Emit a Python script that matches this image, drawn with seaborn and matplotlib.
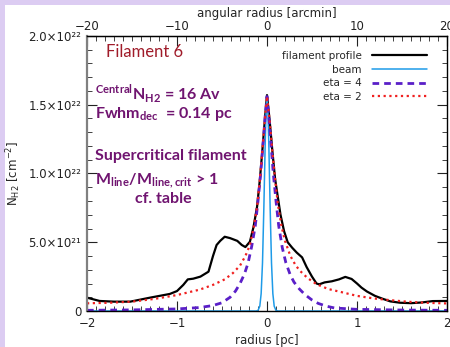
import matplotlib
matplotlib.use("Agg")
import matplotlib.pyplot as plt
from matplotlib.patches import Rectangle
from matplotlib.ticker import MultipleLocator, FixedLocator
import pandas as pd
import seaborn as sns

# radius [pc] / column density [1e21 cm^-2]
prof_r = [-2.0, -1.86, -1.7, -1.52, -1.3, -1.08, -1.0, -0.93, -0.88, -0.82, -0.74, -0.65,
          -0.6, -0.56, -0.52, -0.47, -0.41, -0.33, -0.28, -0.24, -0.19, -0.15, -0.11,
          -0.08, -0.05, -0.02, 0.0, 0.03, 0.06, 0.09, 0.12, 0.15, 0.19, 0.23, 0.28,
          0.33, 0.39, 0.44, 0.5, 0.55, 0.58, 0.64, 0.72, 0.8, 0.87, 0.94, 1.0, 1.05,
          1.11, 1.2, 1.28, 1.37, 1.48, 1.6, 1.72, 1.84, 2.0]
prof_n = [0.97, 0.73, 0.68, 0.68, 0.97, 1.24, 1.45, 1.9, 2.3, 2.35, 2.5, 2.86,
          4.0, 4.8, 5.1, 5.4, 5.3, 5.1, 4.8, 4.65, 5.04, 6.1, 7.6,
          9.5, 11.8, 14.2, 15.7, 13.8, 11.6, 9.6, 8.3, 7.0, 5.8, 5.0, 4.6,
          4.25, 3.9, 3.2, 2.5, 2.0, 1.94, 2.08, 2.16, 2.3, 2.48, 2.33, 2.0, 1.7,
          1.42, 1.1, 0.9, 0.7, 0.6, 0.57, 0.62, 0.72, 0.73]

beam_r = [-2.0, -0.12, -0.1, -0.08, -0.065, -0.05, -0.035, -0.02, -0.01, 0.0,
          0.01, 0.02, 0.035, 0.05, 0.065, 0.08, 0.1, 0.12, 2.0]
beam_n = [0.0, 0.0, 0.04, 0.35, 1.26, 3.5, 7.5, 12.2, 14.6, 15.5,
          14.6, 12.2, 7.5, 3.5, 1.26, 0.35, 0.04, 0.0, 0.0]

eta4_r = [-2.0, -1.5, -1.0, -0.75, -0.6, -0.5, -0.41, -0.35, -0.3, -0.25, -0.21,
          -0.17, -0.13, -0.1, -0.07, -0.04, -0.02, 0.0, 0.02, 0.04, 0.07, 0.1,
          0.13, 0.17, 0.21, 0.26, 0.3, 0.36, 0.42, 0.5, 0.57, 0.66, 0.75, 1.0,
          1.5, 2.0]
eta4_n = [0.05, 0.08, 0.15, 0.25, 0.4, 0.6, 1.0, 1.45, 2.0, 2.7, 3.5,
          4.7, 6.2, 8.0, 10.0, 12.5, 14.2, 15.6, 14.2, 12.5, 10.0, 8.0,
          6.2, 4.6, 3.5, 2.6, 2.1, 1.6, 1.2, 0.8, 0.55, 0.35, 0.22, 0.12,
          0.07, 0.05]

eta2_r = [-2.0, -1.75, -1.5, -1.25, -1.0, -0.75, -0.6, -0.47, -0.38, -0.3, -0.24,
          -0.19, -0.15, -0.11, -0.08, -0.05, -0.02, 0.0, 0.03, 0.06, 0.09, 0.12,
          0.16, 0.2, 0.26, 0.32, 0.37, 0.45, 0.55, 0.68, 0.81, 1.0, 1.18, 1.35,
          1.55, 1.75, 2.0]
eta2_n = [0.56, 0.6, 0.68, 0.88, 1.16, 1.55, 1.9, 2.3, 2.75, 3.3, 4.0,
          4.8, 6.0, 7.6, 9.5, 11.8, 14.2, 15.6, 13.8, 11.6, 9.6, 7.8,
          6.2, 5.1, 4.0, 3.3, 2.9, 2.4, 1.95, 1.6, 1.4, 1.1, 0.92, 0.8,
          0.68, 0.6, 0.55]

y_ticks = [0, 5e21, 1e22, 1.5e22, 2e22]
y_labels = ["0", "5.0×10²¹", "1.0×10²²", "1.5×10²²", "2.0×10²²"]

W, H = 450, 347
sns.set_style("ticks")
plt.rcParams["font.family"] = ["DejaVu Sans"]

fig = plt.figure(figsize=(W / 100, H / 100), dpi=100, facecolor="#dcccf2")
fig.patches.append(Rectangle((5 / W, 0), 1, 1 - 5 / H, transform=fig.transFigure,
                             facecolor="white", edgecolor="none", zorder=-10))
ax = fig.add_axes([87 / W, 1 - 311 / H, 360 / W, 275 / H])
ax.set_facecolor("white")


def frame(r, n):
    return pd.DataFrame({"r": r, "n": [v * 1e21 for v in n]})


sns.lineplot(data=frame(prof_r, prof_n), x="r", y="n", ax=ax, color="black",
             lw=1.6, estimator=None, label="filament profile")
sns.lineplot(data=frame(beam_r, beam_n), x="r", y="n", ax=ax, color="#1e9be8",
             lw=1.1, estimator=None, label="beam")
sns.lineplot(data=frame(eta4_r, eta4_n), x="r", y="n", ax=ax, color="#5a1fc8",
             lw=2.0, ls=(0, (2.4, 1.8)), estimator=None, label="eta = 4")
sns.lineplot(data=frame(eta2_r, eta2_n), x="r", y="n", ax=ax, color="#f02020",
             lw=1.6, ls=(0, (1, 1.6)), estimator=None, label="eta = 2")

ax.set_xlim(-2, 2)
ax.set_ylim(0, 2e22)
ax.xaxis.set_major_locator(FixedLocator([-2, -1, 0, 1, 2]))
ax.xaxis.set_minor_locator(MultipleLocator(0.1))
ax.set_yticks(y_ticks, y_labels)
ax.yaxis.set_minor_locator(MultipleLocator(1e21))
ax.tick_params(which="both", direction="in", top=False, right=True,
               labelsize=8.5, colors="#222222", pad=4)
ax.tick_params(which="major", length=7)
ax.tick_params(which="minor", length=3.5)
for s in ["top", "right", "bottom"]:
    ax.spines[s].set_color("black")
    ax.spines[s].set_linewidth(1.0)
ax.spines["left"].set_color("#808080")
ax.spines["left"].set_linewidth(1.6)

ax.set_xlabel("radius [pc]", fontsize=8.5, labelpad=3)
ax.set_ylabel(r"N$_{\mathregular{H2}}$ [cm$^{\mathregular{-2}}$]", fontsize=8.5, labelpad=4)

sec = ax.secondary_xaxis("top", functions=(lambda r: r * 10, lambda a: a / 10))
sec.xaxis.set_major_locator(FixedLocator([-20, -10, 0, 10, 20]))
sec.xaxis.set_minor_locator(MultipleLocator(1))
sec.tick_params(which="both", direction="in", labelsize=8.5, colors="#222222", pad=2)
sec.tick_params(which="major", length=7)
sec.tick_params(which="minor", length=3.5)
sec.set_xlabel("angular radius [arcmin]", fontsize=8.5, labelpad=2)

leg = ax.legend(loc="upper right", frameon=False, markerfirst=False, fontsize=7.5,
                handlelength=5.3, handletextpad=1.0, labelspacing=0.35,
                borderpad=0, borderaxespad=0,
                bbox_to_anchor=(427 / W, 1 - 51 / H), bbox_transform=fig.transFigure)
for t in leg.get_texts():
    t.set_ha("right")

purple = "#701470"
kw = dict(family="Lato", weight="bold", color=purple, va="baseline", ha="left")
fig.text(106 / W, 1 - 57 / H, "Filament 6", family="Lato", fontsize=12,
         color="#a01c2a", va="baseline")
fig.text(95 / W, 1 - 100 / H, r"$^{\mathregular{Central}}$N$_{\mathregular{H2}}$ = 16 Av",
         fontsize=11.5, **kw)
fig.text(95 / W, 1 - 118 / H, r"Fwhm$_{\mathregular{dec}}$  = 0.14 pc", fontsize=11.5, **kw)
fig.text(95 / W, 1 - 160 / H, "Supercritical filament", fontsize=11.5, **kw)
fig.text(95 / W, 1 - 184 / H, r"M$_{\mathregular{line}}$/M$_{\mathregular{line,crit}}$ > 1",
         fontsize=11.5, **kw)
fig.text(135 / W, 1 - 203 / H, "cf. table", fontsize=11.5, **kw)

fig.savefig("out.png", dpi=100, facecolor=fig.get_facecolor())
